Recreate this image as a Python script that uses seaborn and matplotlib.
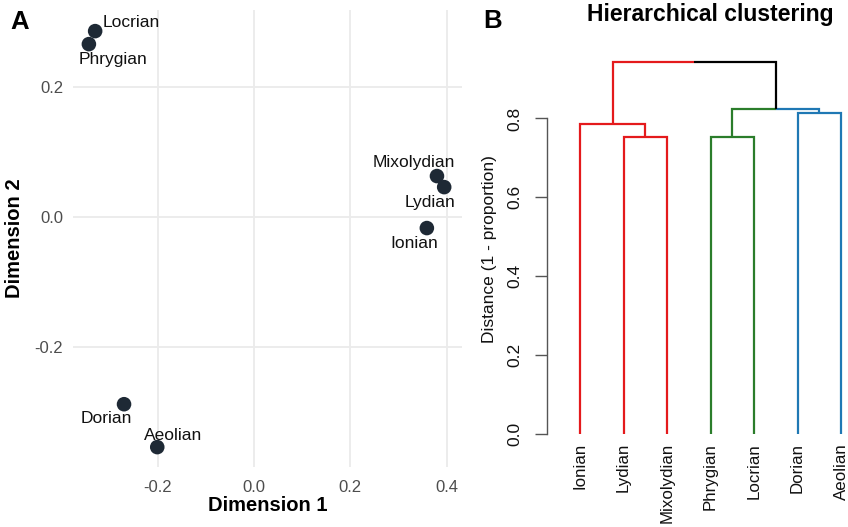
import numpy as np
import pandas as pd
import matplotlib
matplotlib.use("Agg")
import matplotlib.pyplot as plt
import seaborn as sns

# ---------------- data ----------------
modes = ["Locrian", "Phrygian", "Mixolydian", "Lydian", "Ionian", "Dorian", "Aeolian"]
dim1 = [-0.330, -0.343, 0.380, 0.395, 0.359, -0.270, -0.201]
dim2 = [0.286, 0.266, 0.063, 0.046, -0.017, -0.288, -0.354]

leaf_order = ["Ionian", "Lydian", "Mixolydian", "Phrygian", "Locrian", "Dorian", "Aeolian"]
leaf_cluster = ["red", "red", "red", "green", "green", "blue", "blue"]
# merges (node ids: leaves 0..6, new nodes 7..12)
merge_left = [1, 0, 3, 5, 9, 8]
merge_right = [2, 7, 4, 6, 10, 11]
merge_height = [0.754, 0.787, 0.754, 0.813, 0.825, 0.944]

y_ticks_B = [0.0, 0.2, 0.4, 0.6, 0.8]

# ---------------- style ----------------
sns.set_style("white")
plt.rcParams["font.family"] = ["Liberation Sans", "DejaVu Sans"]
plt.rcParams["text.color"] = "black"
plt.rcParams["axes.labelcolor"] = "black"

cluster_colors = {"red": "#E41A1C", "green": "#2B7D2B", "blue": "#1F78B4"}

# label offsets (pixels) for scatter labels
label_offsets = {
    "Locrian": (36, 9), "Phrygian": (24, -15), "Mixolydian": (-23, 14),
    "Lydian": (-14, -15), "Ionian": (-13, -15), "Dorian": (-18, -14),
    "Aeolian": (16, 12),
}

W, H = 848, 527
fig = plt.figure(figsize=(W / 100, H / 100), dpi=100)

# ---------------- panel A ----------------
axA = fig.add_axes([73 / W, (H - 467) / H, 389 / W, 457 / H])
dfA = pd.DataFrame({"mode": modes, "d1": dim1, "d2": dim2})
sns.scatterplot(data=dfA, x="d1", y="d2", ax=axA, s=110, color="#1E2935",
                edgecolor="none", zorder=3, legend=False)
for m, x, y in zip(modes, dim1, dim2):
    dx, dy = label_offsets[m]
    axA.annotate(m, (x, y), xytext=(dx, dy), textcoords="offset pixels",
                 ha="center", va="center", fontsize=12.5, color="#111111")
axA.set_xlim(-0.376, 0.432)
axA.set_ylim(-0.3846, 0.3185)
axA.set_xticks([-0.2, 0.0, 0.2, 0.4])
axA.set_yticks([-0.2, 0.0, 0.2])
axA.set_xticklabels(["-0.2", "0.0", "0.2", "0.4"])
axA.set_yticklabels(["-0.2", "0.0", "0.2"])
axA.grid(True, color="#EBEBEB", linewidth=1.3)
axA.set_axisbelow(True)
for sp in axA.spines.values():
    sp.set_visible(False)
axA.tick_params(axis="both", length=0, labelsize=12, labelcolor="#4D4D4D")
axA.tick_params(axis="x", pad=9)
axA.tick_params(axis="y", pad=7)
axA.set_xlabel("Dimension 1", fontsize=14.5, fontweight="bold", color="black")
axA.set_ylabel("Dimension 2", fontsize=14.5, fontweight="bold", color="black")
axA.xaxis.set_label_coords(0.5, -0.063)
axA.yaxis.set_label_coords(-0.125, 0.5)

# ---------------- panel B (dendrogram) ----------------
axB = fig.add_axes([547 / W, (H - 440) / H, 301 / W, 390 / H])
node_x = [float(i + 1) for i in range(len(leaf_order))]
node_h = [0.0] * len(leaf_order)
node_c = [cluster_colors[c] for c in leaf_cluster]
rows = []
seg = 0
for l, r, h in zip(merge_left, merge_right, merge_height):
    mid = (node_x[l] + node_x[r]) / 2
    for child in (l, r):
        pts = [(node_x[child], node_h[child]), (node_x[child], h), (mid, h)]
        for k, (px, py) in enumerate(pts):
            rows.append({"seg": seg, "k": k, "x": px, "y": py, "color": node_c[child]})
        seg += 1
    node_x.append(mid)
    node_h.append(h)
    node_c.append(node_c[l] if node_c[l] == node_c[r] else "#000000")
dfB = pd.DataFrame(rows)
pal = {c: c for c in dfB["color"].unique()}
sns.lineplot(data=dfB, x="x", y="y", units="seg", hue="color", palette=pal,
             estimator=None, sort=False, legend=False, linewidth=1.6, ax=axB)
for ln in axB.get_lines():
    ln.set_clip_on(False)
    ln.set_solid_joinstyle("miter")
    ln.set_solid_capstyle("butt")

axB.set_xlim(0.241, 7.16)
axB.set_ylim(-0.0152, 0.9736)
axB.set_xticks(range(1, len(leaf_order) + 1))
axB.set_xticklabels(leaf_order, rotation=90, fontsize=12.2, color="#111111")
axB.tick_params(axis="x", length=0, pad=2)
axB.set_yticks(y_ticks_B)
axB.set_yticklabels([f"{v:.1f}" for v in y_ticks_B], rotation=90, va="center",
                    fontsize=12.5, color="#111111")
axB.tick_params(axis="y", length=8.6, width=1, color="#555555", pad=9, left=True)
for name, sp in axB.spines.items():
    sp.set_visible(name == "left")
axB.spines["left"].set_bounds(0, 0.8)
axB.spines["left"].set_color("#555555")
axB.spines["left"].set_linewidth(1)
axB.set_xlabel("")
axB.set_ylabel("Distance (1 - proportion)", fontsize=12.5, color="#111111")
axB.yaxis.set_label_coords(-0.165, 0.49)

# ---------------- titles / panel letters ----------------
fig.text(710 / W, 1 - 14 / H, "Hierarchical clustering", ha="center", va="center",
         fontsize=16.5, fontweight="bold", color="black")
fig.text(10 / W, 1 - 22 / H, "A", ha="left", va="center", fontsize=18.5,
         fontweight="bold", color="black")
fig.text(483 / W, 1 - 21 / H, "B", ha="left", va="center", fontsize=18.5,
         fontweight="bold", color="black")

fig.savefig("out.png", dpi=100)
